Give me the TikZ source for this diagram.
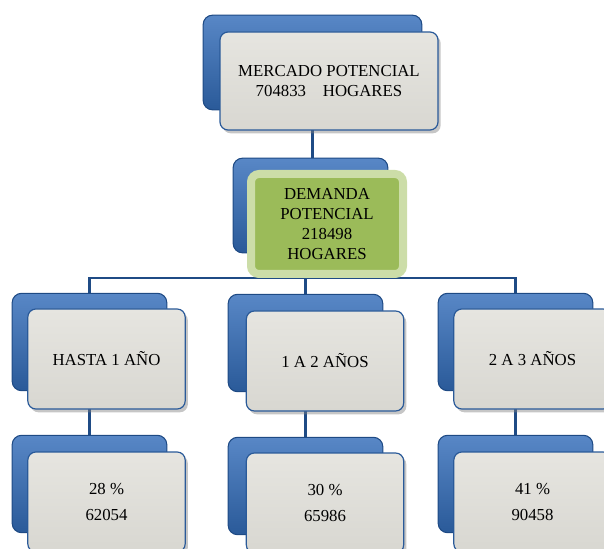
\documentclass[tikz,border=0pt]{standalone}
\usepackage{fontspec}
\setmainfont{Liberation Serif}
\usepackage{xcolor}
\definecolor{mkblue}{HTML}{2A5A99}
\definecolor{mkbluelight}{HTML}{5887C6}
\definecolor{mkbluedark}{HTML}{1E4A84}
\definecolor{mkgrey}{HTML}{D8D7D1}
\definecolor{mkgreylight}{HTML}{E6E5E0}
\definecolor{mkgreen}{HTML}{9BBB59}
\definecolor{mkgreenlight}{HTML}{CCDDA8}
\definecolor{mkline}{HTML}{1F4B85}
\usepackage{tikz}
\usetikzlibrary{positioning, shadows, backgrounds, calc}

\begin{document}
\begin{tikzpicture}[x=0.75pt, y=-0.75pt,
    backbox/.style={rounded corners=7pt, draw=mkbluedark, line width=0.8pt,
      top color=mkbluelight, bottom color=mkblue,
      minimum width=116pt, minimum height=73pt},
    frontbox/.style={rounded corners=6pt, draw=mkblue, line width=0.9pt,
      top color=mkgreylight, bottom color=mkgrey,
      drop shadow={shadow xshift=2pt, shadow yshift=-2.5pt, opacity=0.45},
      minimum width=118pt, minimum height=75pt, align=center,
      font=\fontsize{12.6}{14.5}\selectfont},
    greenbox/.style={rounded corners=6pt, draw=mkgreenlight, line width=6pt,
      fill=mkgreen, minimum width=114pt, minimum height=75pt, align=center,
      font=\fontsize{12.6}{15}\selectfont},
    link/.style={draw=mkline, line width=1.6pt}]
  \clip (0,0) rectangle (604,549);

  % top level
  \node[backbox, minimum width=164pt, minimum height=71pt] (tb) at (312.5,62.5) {};
  \node[frontbox, minimum width=163.5pt, minimum height=73.5pt] (tf) at (329,81)
    {MERCADO POTENCIAL\\704833\quad HOGARES};

  % demand
  \node[backbox, minimum height=71pt] (db) at (310.5,205.5) {};
  \node[greenbox] (df) at (327,224) {DEMANDA\\POTENCIAL\\218498\\HOGARES};

  % periods
  \node[backbox] (hb1) at (89.5,342) {};
  \node[frontbox] (hf1) at (106.5,359) {HASTA 1 AÑO};
  \node[backbox] (hb2) at (305.5,343) {};
  \node[frontbox] (hf2) at (325,361) {1 A 2 AÑOS};
  \node[backbox] (hb3) at (515.5,342) {};
  \node[frontbox] (hf3) at (532.5,359) {2 A 3 AÑOS};

  % shares
  \node[backbox] (pb1) at (89.5,484) {};
  \node[frontbox] (pf1) at (106.5,502) {28 \%\\[5.5pt]62054};
  \node[backbox] (pb2) at (305.5,486) {};
  \node[frontbox] (pf2) at (325,503) {30 \%\\[5.5pt]65986};
  \node[backbox] (pb3) at (515.5,484) {};
  \node[frontbox] (pf3) at (532.5,502) {41 \%\\[5.5pt]90458};

  \coordinate (bus) at (310,278);

  \begin{scope}[on background layer]
    \draw[link] (tb.center) -- (tb.center |- db.center);
    \draw[link] (db.center) -- (db.center |- bus);
    \draw[link] (hb1.center) |- (bus) -| (hb3.center);
    \draw[link] (hb2.center) -- (hb2.center |- bus);
    \foreach \i in {1,2,3}
      \draw[link] (hb\i.center) -- (pb\i.center);
  \end{scope}
\end{tikzpicture}
\end{document}
